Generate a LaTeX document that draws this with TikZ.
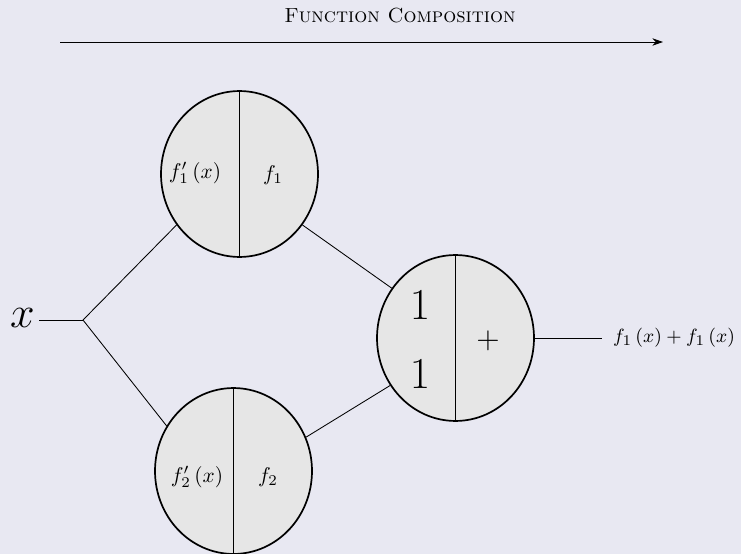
\documentclass[tikz,border=0pt]{standalone}
\usetikzlibrary{shapes.geometric,arrows.meta}
\definecolor{bgc}{RGB}{232,232,242}
\definecolor{nodefill}{RGB}{230,230,230}
\begin{document}
\begin{tikzpicture}[x=0.4695pt,y=-0.4695pt,
  unit/.style={ellipse,draw,line width=0.8pt,fill=nodefill,minimum width=73.7pt,minimum height=77.9pt,inner sep=0pt},
  conn/.style={line width=0.4pt},
  divider/.style={line width=0.5pt},
  lbl/.style={font=\fontsize{9.6pt}{11pt}\selectfont},
  outlbl/.style={font=\fontsize{9.3pt}{11pt}\selectfont}]
\fill[bgc] (0,0) rectangle (741,554);
\useasboundingbox (0,0) rectangle (741,554);
% title and arrow
\node[font=\fontsize{9.6pt}{11pt}\selectfont] (title) at (400,16) {\textsc{Function Composition}};
\coordinate (as) at (60,42);
\coordinate (ae) at (663,42);
\draw[conn,-{Stealth[length=5pt,width=3.5pt]}] (as) -- (ae);
% units
\node[unit] (top) at (239.5,174) {};
\node[unit] (bot) at (233.5,471) {};
\node[unit] (sum) at (455.5,338) {};
\draw[divider] (top.north) -- (top.south);
\draw[divider] (bot.north) -- (bot.south);
\draw[divider] (sum.north) -- (sum.south);
\node[lbl] (t1) at (195,173) {$f_1'\left(x\right)$};
\node[lbl] (t2) at (273,175) {$f_1$};
\node[lbl] (b1) at (197,477) {$f_2'\left(x\right)$};
\node[lbl] (b2) at (268,477) {$f_2$};
\node[font=\huge] (s1) at (420,305) {$1$};
\node[font=\huge] (s2) at (420,374) {$1$};
\node[font=\Large] (s3) at (488,341) {$+$};
% input
\node[font=\huge,inner sep=2pt] (xin) at (22.5,318) {$x$};
\coordinate (j) at (83,320);
\draw[conn] (xin.east |- j) -- (j);
\draw[conn] (j) -- (top.219);
\draw[conn] (j) -- (bot.146);
\draw[conn] (top.321) -- (sum.142);
\draw[conn] (bot.25) -- (sum.216);
% output
\node[outlbl,anchor=west,inner xsep=5pt,inner ysep=0pt] (out) at (602,338) {$f_1\left(x\right)+f_1\left(x\right)$};
\draw[conn] (sum.east) -- (out.west);
\end{tikzpicture}
\end{document}
